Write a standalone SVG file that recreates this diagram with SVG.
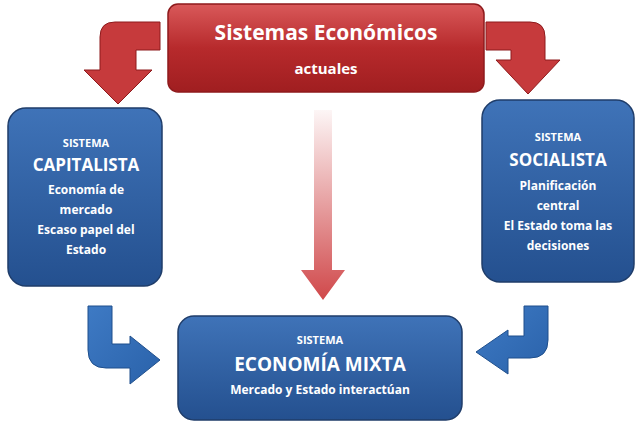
<svg xmlns="http://www.w3.org/2000/svg" width="640" height="433" viewBox="0 0 640 433">
<defs>
<linearGradient id="red" x1="0" y1="0" x2="0" y2="1"><stop offset="0" stop-color="#d9595a"/><stop offset="0.5" stop-color="#b72a2c"/><stop offset="1" stop-color="#a01e20"/></linearGradient>
<linearGradient id="blue" x1="0" y1="0" x2="0" y2="1"><stop offset="0" stop-color="#3f73b8"/><stop offset="1" stop-color="#24508f"/></linearGradient>
<linearGradient id="fade" x1="0" y1="0" x2="0" y2="1"><stop offset="0" stop-color="#d0484a" stop-opacity="0.05"/><stop offset="1" stop-color="#d0484a"/></linearGradient>
<linearGradient id="barrow" x1="0" y1="0" x2="1" y2="1"><stop offset="0" stop-color="#3e7ac4"/><stop offset="1" stop-color="#2a62aa"/></linearGradient>
<style>
.t{font-family:"Open Sans","Liberation Sans",sans-serif;fill:#fff;text-anchor:middle;font-weight:bold}
.box{stroke:#1f3d6a;stroke-width:1.5}
</style>
</defs>
<rect width="640" height="433" fill="#fff"/>
<g id="connectors">
<path d="M160 22 H115 Q100 22 100 37 V70 H84 L118 104 L152 70 H136 V50 H160 Z" fill="#c63a3c" stroke="#8e1a1c"/>
<path d="M486 22 H530 Q545 22 545 37 V60 H560 L528 94 L496 60 H511 V50 H486 Z" fill="#c63a3c" stroke="#8e1a1c"/>
<path d="M314 110 H332 V270 H345 L323 300 L301 270 H314 Z" fill="url(#fade)"/>
<path d="M88 306 V350 Q88 368 106 368 H130 V384 L160 360 L130 336 V344 H112 V306 Z" fill="url(#barrow)" stroke="#1f4f8c"/>
<path d="M548 306 V340 Q548 358 530 358 H508 V374 L476 352 L508 330 V336 H524 V306 Z" fill="url(#barrow)" stroke="#1f4f8c"/>
</g>
<g id="top">
<rect x="168" y="4" width="316" height="88" rx="10" fill="url(#red)" stroke="#8e1a1c" stroke-width="1.5"/>
<text class="t" x="326" y="40" font-size="21">Sistemas Económicos</text>
<text class="t" x="326" y="74" font-size="15">actuales</text>
</g>
<g id="capitalista">
<rect class="box" x="8" y="108" width="154" height="178" rx="18" fill="url(#blue)"/>
<text class="t" x="86" y="147" font-size="11">SISTEMA</text>
<text class="t" x="86" y="171" font-size="17">CAPITALISTA</text>
<text class="t" x="86" y="194" font-size="12">Economía de</text>
<text class="t" x="86" y="214" font-size="12">mercado</text>
<text class="t" x="86" y="234" font-size="12">Escaso papel del</text>
<text class="t" x="86" y="254" font-size="12">Estado</text>
</g>
<g id="socialista">
<rect class="box" x="482" y="100" width="152" height="182" rx="18" fill="url(#blue)"/>
<text class="t" x="558" y="141" font-size="11">SISTEMA</text>
<text class="t" x="558" y="166" font-size="17">SOCIALISTA</text>
<text class="t" x="558" y="190" font-size="12">Planificación</text>
<text class="t" x="558" y="210" font-size="12">central</text>
<text class="t" x="558" y="230" font-size="12">El Estado toma las</text>
<text class="t" x="558" y="250" font-size="12">decisiones</text>
</g>
<g id="mixta">
<rect class="box" x="178" y="316" width="284" height="104" rx="16" fill="url(#blue)"/>
<text class="t" x="320" y="344" font-size="11">SISTEMA</text>
<text class="t" x="320" y="371" font-size="19">ECONOMÍA MIXTA</text>
<text class="t" x="320" y="394" font-size="12">Mercado y Estado interactúan</text>
</g>
</svg>
